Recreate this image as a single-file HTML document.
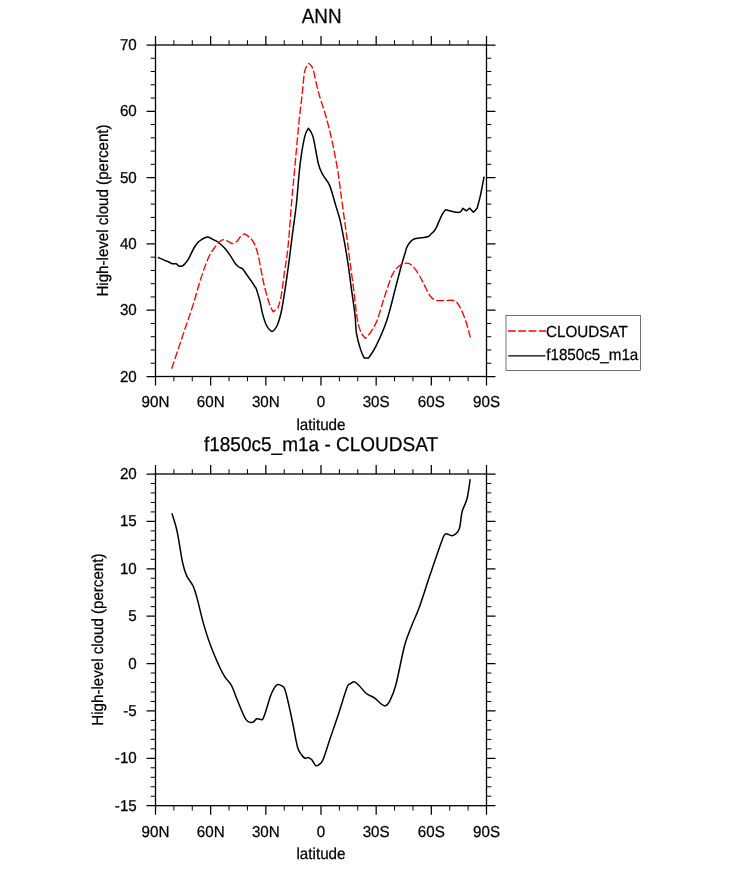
<!DOCTYPE html>
<html><head><meta charset="utf-8"><style>
html,body{margin:0;padding:0;background:#fff;}
svg{display:block;will-change:transform;}
text{text-rendering:geometricPrecision;font-family:"Liberation Sans",sans-serif;stroke:#000;stroke-width:0.25px;}

</style></head><body>
<svg width="733" height="869" viewBox="0 0 733 869">
<rect x="0" y="0" width="733" height="869" fill="#fff"/>
<rect x="155.50" y="45.00" width="331.00" height="331.50" fill="none" stroke="#000" stroke-width="1.3"/>
<path d="M155.50,376.50V385.50 M155.50,45.00V36.00 M210.67,376.50V385.50 M210.67,45.00V36.00 M265.83,376.50V385.50 M265.83,45.00V36.00 M321.00,376.50V385.50 M321.00,45.00V36.00 M376.17,376.50V385.50 M376.17,45.00V36.00 M431.33,376.50V385.50 M431.33,45.00V36.00 M486.50,376.50V385.50 M486.50,45.00V36.00 M155.50,376.50H146.50 M486.50,376.50H495.50 M155.50,310.20H146.50 M486.50,310.20H495.50 M155.50,243.90H146.50 M486.50,243.90H495.50 M155.50,177.60H146.50 M486.50,177.60H495.50 M155.50,111.30H146.50 M486.50,111.30H495.50 M155.50,45.00H146.50 M486.50,45.00H495.50" stroke="#000" stroke-width="1.25" fill="none"/>
<path d="M173.89,376.50V381.30 M173.89,45.00V40.20 M192.28,376.50V381.30 M192.28,45.00V40.20 M229.06,376.50V381.30 M229.06,45.00V40.20 M247.44,376.50V381.30 M247.44,45.00V40.20 M284.22,376.50V381.30 M284.22,45.00V40.20 M302.61,376.50V381.30 M302.61,45.00V40.20 M339.39,376.50V381.30 M339.39,45.00V40.20 M357.78,376.50V381.30 M357.78,45.00V40.20 M394.56,376.50V381.30 M394.56,45.00V40.20 M412.94,376.50V381.30 M412.94,45.00V40.20 M449.72,376.50V381.30 M449.72,45.00V40.20 M468.11,376.50V381.30 M468.11,45.00V40.20 M155.50,363.24H150.70 M486.50,363.24H491.30 M155.50,349.98H150.70 M486.50,349.98H491.30 M155.50,336.72H150.70 M486.50,336.72H491.30 M155.50,323.46H150.70 M486.50,323.46H491.30 M155.50,296.94H150.70 M486.50,296.94H491.30 M155.50,283.68H150.70 M486.50,283.68H491.30 M155.50,270.42H150.70 M486.50,270.42H491.30 M155.50,257.16H150.70 M486.50,257.16H491.30 M155.50,230.64H150.70 M486.50,230.64H491.30 M155.50,217.38H150.70 M486.50,217.38H491.30 M155.50,204.12H150.70 M486.50,204.12H491.30 M155.50,190.86H150.70 M486.50,190.86H491.30 M155.50,164.34H150.70 M486.50,164.34H491.30 M155.50,151.08H150.70 M486.50,151.08H491.30 M155.50,137.82H150.70 M486.50,137.82H491.30 M155.50,124.56H150.70 M486.50,124.56H491.30 M155.50,98.04H150.70 M486.50,98.04H491.30 M155.50,84.78H150.70 M486.50,84.78H491.30 M155.50,71.52H150.70 M486.50,71.52H491.30 M155.50,58.26H150.70 M486.50,58.26H491.30" stroke="#000" stroke-width="1.0" fill="none"/>
<rect x="155.50" y="474.00" width="331.00" height="331.70" fill="none" stroke="#000" stroke-width="1.3"/>
<path d="M155.50,805.70V814.70 M155.50,474.00V465.00 M210.67,805.70V814.70 M210.67,474.00V465.00 M265.83,805.70V814.70 M265.83,474.00V465.00 M321.00,805.70V814.70 M321.00,474.00V465.00 M376.17,805.70V814.70 M376.17,474.00V465.00 M431.33,805.70V814.70 M431.33,474.00V465.00 M486.50,805.70V814.70 M486.50,474.00V465.00 M155.50,805.70H146.50 M486.50,805.70H495.50 M155.50,758.31H146.50 M486.50,758.31H495.50 M155.50,710.93H146.50 M486.50,710.93H495.50 M155.50,663.54H146.50 M486.50,663.54H495.50 M155.50,616.16H146.50 M486.50,616.16H495.50 M155.50,568.77H146.50 M486.50,568.77H495.50 M155.50,521.39H146.50 M486.50,521.39H495.50 M155.50,474.00H146.50 M486.50,474.00H495.50" stroke="#000" stroke-width="1.25" fill="none"/>
<path d="M173.89,805.70V810.50 M173.89,474.00V469.20 M192.28,805.70V810.50 M192.28,474.00V469.20 M229.06,805.70V810.50 M229.06,474.00V469.20 M247.44,805.70V810.50 M247.44,474.00V469.20 M284.22,805.70V810.50 M284.22,474.00V469.20 M302.61,805.70V810.50 M302.61,474.00V469.20 M339.39,805.70V810.50 M339.39,474.00V469.20 M357.78,805.70V810.50 M357.78,474.00V469.20 M394.56,805.70V810.50 M394.56,474.00V469.20 M412.94,805.70V810.50 M412.94,474.00V469.20 M449.72,805.70V810.50 M449.72,474.00V469.20 M468.11,805.70V810.50 M468.11,474.00V469.20 M155.50,796.22H150.70 M486.50,796.22H491.30 M155.50,786.75H150.70 M486.50,786.75H491.30 M155.50,777.27H150.70 M486.50,777.27H491.30 M155.50,767.79H150.70 M486.50,767.79H491.30 M155.50,748.84H150.70 M486.50,748.84H491.30 M155.50,739.36H150.70 M486.50,739.36H491.30 M155.50,729.88H150.70 M486.50,729.88H491.30 M155.50,720.41H150.70 M486.50,720.41H491.30 M155.50,701.45H150.70 M486.50,701.45H491.30 M155.50,691.97H150.70 M486.50,691.97H491.30 M155.50,682.50H150.70 M486.50,682.50H491.30 M155.50,673.02H150.70 M486.50,673.02H491.30 M155.50,654.07H150.70 M486.50,654.07H491.30 M155.50,644.59H150.70 M486.50,644.59H491.30 M155.50,635.11H150.70 M486.50,635.11H491.30 M155.50,625.63H150.70 M486.50,625.63H491.30 M155.50,606.68H150.70 M486.50,606.68H491.30 M155.50,597.20H150.70 M486.50,597.20H491.30 M155.50,587.73H150.70 M486.50,587.73H491.30 M155.50,578.25H150.70 M486.50,578.25H491.30 M155.50,559.29H150.70 M486.50,559.29H491.30 M155.50,549.82H150.70 M486.50,549.82H491.30 M155.50,540.34H150.70 M486.50,540.34H491.30 M155.50,530.86H150.70 M486.50,530.86H491.30 M155.50,511.91H150.70 M486.50,511.91H491.30 M155.50,502.43H150.70 M486.50,502.43H491.30 M155.50,492.95H150.70 M486.50,492.95H491.30 M155.50,483.48H150.70 M486.50,483.48H491.30" stroke="#000" stroke-width="1.0" fill="none"/>
<path d="M157.80,257.40 C158.87,257.85 162.37,259.33 164.20,260.10 C166.03,260.87 167.42,261.38 168.80,262.00 C170.18,262.62 171.27,263.50 172.50,263.80 C173.73,264.10 175.13,263.43 176.20,263.80 C177.27,264.17 177.88,265.63 178.90,266.00 C179.92,266.37 181.22,266.45 182.30,266.00 C183.38,265.55 184.27,264.67 185.40,263.30 C186.53,261.93 187.72,260.27 189.10,257.80 C190.48,255.33 192.17,251.12 193.70,248.50 C195.23,245.88 196.92,243.63 198.30,242.10 C199.68,240.57 200.47,240.13 202.00,239.30 C203.53,238.47 205.52,237.00 207.50,237.10 C209.48,237.20 212.07,239.00 213.90,239.90 C215.73,240.80 216.65,241.07 218.50,242.50 C220.35,243.93 223.00,246.27 225.00,248.50 C227.00,250.73 228.82,253.43 230.50,255.90 C232.18,258.37 233.72,261.45 235.10,263.30 C236.48,265.15 237.57,266.08 238.80,267.00 C240.03,267.92 241.12,267.43 242.50,268.80 C243.88,270.17 245.57,273.05 247.10,275.20 C248.63,277.35 250.18,279.47 251.70,281.70 C253.22,283.93 255.45,287.45 256.20,288.60 C256.82,290.67 258.83,296.78 259.90,301.00 C260.97,305.22 261.53,309.90 262.60,313.90 C263.67,317.90 264.92,322.15 266.30,325.00 C267.68,327.85 269.67,330.08 270.90,331.00 C272.13,331.92 272.62,331.50 273.70,330.50 C274.78,329.50 276.18,327.92 277.40,325.00 C278.62,322.08 279.78,318.53 281.00,313.00 C282.22,307.47 283.35,300.50 284.70,291.80 C286.05,283.10 287.75,270.88 289.10,260.80 C290.45,250.72 291.60,240.60 292.80,231.30 C294.00,222.00 295.08,216.18 296.30,205.00 C297.52,193.82 298.70,175.60 300.10,164.20 C301.50,152.80 303.32,142.58 304.70,136.60 C306.08,130.62 307.78,129.68 308.40,128.30 C309.17,129.68 311.32,130.62 313.00,136.60 C314.68,142.58 316.82,157.77 318.50,164.20 C320.18,170.63 321.25,171.67 323.10,175.20 C324.95,178.73 327.52,180.43 329.60,185.40 C331.68,190.37 333.87,199.25 335.60,205.00 C337.33,210.75 338.52,213.67 340.00,219.90 C341.48,226.13 343.13,234.90 344.50,242.40 C345.87,249.90 347.08,257.42 348.20,264.90 C349.32,272.38 350.07,278.97 351.20,287.30 C352.33,295.63 354.13,307.32 355.00,314.90 C355.87,322.48 355.48,327.05 356.40,332.80 C357.32,338.55 359.18,345.20 360.50,349.40 C361.82,353.60 363.67,356.57 364.30,358.00 C365.00,358.00 367.80,358.00 368.50,358.00 C369.70,356.10 372.65,352.87 375.70,346.60 C378.75,340.33 383.35,330.75 386.80,320.40 C390.25,310.05 393.88,293.93 396.40,284.50 C398.92,275.07 400.35,269.37 401.90,263.80 C403.45,258.23 404.88,253.85 405.70,251.10 C406.52,248.35 406.02,248.87 406.80,247.30 C407.58,245.73 409.18,243.08 410.40,241.70 C411.62,240.32 412.35,239.67 414.10,239.00 C415.85,238.33 418.65,238.07 420.90,237.70 C423.15,237.33 425.87,237.45 427.60,236.80 C429.33,236.15 429.97,235.12 431.30,233.80 C432.63,232.48 433.87,231.98 435.60,228.90 C437.33,225.82 440.07,218.48 441.70,215.30 C443.33,212.12 444.78,210.72 445.40,209.80 C446.43,210.05 449.23,210.88 451.60,211.30 C453.97,211.72 457.72,212.80 459.60,212.30 C461.48,211.80 462.35,208.97 462.90,208.30 C463.47,208.72 465.73,210.38 466.30,210.80 C466.87,210.37 469.13,208.63 469.70,208.20 C470.32,208.88 472.78,211.62 473.40,212.30 C474.02,211.62 476.48,208.88 477.10,208.20 C477.65,206.12 479.23,200.95 480.40,195.70 C481.57,190.45 483.48,179.87 484.10,176.70" stroke="#000" stroke-width="1.5" fill="none" stroke-linejoin="round"/>
<path d="M171.60,368.80 C172.82,365.18 176.45,354.40 178.90,347.10 C181.35,339.80 183.83,332.37 186.30,325.00 C188.77,317.63 191.25,310.73 193.70,302.90 C196.15,295.07 198.55,285.52 201.00,278.00 C203.45,270.48 206.25,262.72 208.40,257.80 C210.55,252.88 212.05,251.18 213.90,248.50 C215.75,245.82 217.80,243.17 219.50,241.70 C221.20,240.23 222.73,239.78 224.10,239.70 C225.47,239.62 226.33,240.55 227.70,241.20 C229.07,241.85 230.75,243.60 232.30,243.60 C233.85,243.60 235.62,242.37 237.00,241.20 C238.38,240.03 239.38,237.83 240.60,236.60 C241.82,235.37 243.68,234.27 244.30,233.80 C245.22,234.42 248.12,235.82 249.80,237.50 C251.48,239.18 253.02,240.98 254.40,243.90 C255.78,246.82 256.73,249.32 258.10,255.00 C259.47,260.68 261.38,272.17 262.60,278.00 C263.82,283.83 264.32,285.85 265.40,290.00 C266.48,294.15 267.83,299.27 269.10,302.90 C270.37,306.53 272.35,310.32 273.00,311.80 C273.80,311.23 277.00,308.97 277.80,308.40 C278.35,306.40 280.02,302.23 281.10,296.40 C282.18,290.57 283.13,281.80 284.30,273.40 C285.47,265.00 286.85,258.23 288.10,246.00 C289.35,233.77 290.72,212.72 291.80,200.00 C292.88,187.28 293.37,183.03 294.60,169.70 C295.83,156.37 297.97,132.28 299.20,120.00 C300.43,107.72 301.08,104.13 302.00,96.00 C302.92,87.87 303.57,76.65 304.70,71.20 C305.83,65.75 308.12,64.62 308.80,63.30 C309.50,64.30 311.38,64.45 313.00,69.30 C314.62,74.15 316.35,84.57 318.50,92.40 C320.65,100.23 323.60,108.02 325.90,116.30 C328.20,124.58 330.30,132.90 332.30,142.10 C334.30,151.30 336.48,163.02 337.90,171.50 C339.32,179.98 339.70,184.93 340.80,193.00 C341.90,201.07 343.38,211.67 344.50,219.90 C345.62,228.13 346.52,234.90 347.50,242.40 C348.48,249.90 349.42,257.42 350.40,264.90 C351.38,272.38 352.53,280.45 353.40,287.30 C354.27,294.15 354.87,300.25 355.60,306.00 C356.33,311.75 356.87,317.33 357.80,321.80 C358.73,326.27 359.93,330.03 361.20,332.80 C362.47,335.57 364.70,337.47 365.40,338.40 C366.20,337.47 368.25,335.80 370.20,332.80 C372.15,329.80 374.80,326.15 377.10,320.40 C379.40,314.65 381.47,305.88 384.00,298.30 C386.53,290.72 389.77,280.30 392.30,274.90 C394.83,269.50 396.82,267.85 399.20,265.90 C401.58,263.95 404.47,263.28 406.60,263.20 C408.73,263.12 410.18,263.85 412.00,265.40 C413.82,266.95 415.87,270.05 417.50,272.50 C419.13,274.95 420.35,277.38 421.80,280.10 C423.25,282.82 424.73,286.07 426.20,288.80 C427.67,291.53 428.97,294.58 430.60,296.50 C432.23,298.42 433.60,299.62 436.00,300.30 C438.40,300.98 441.90,300.55 445.00,300.60 C448.10,300.65 452.18,299.65 454.60,300.60 C457.02,301.55 458.05,303.98 459.50,306.30 C460.95,308.62 462.12,311.58 463.30,314.50 C464.48,317.42 465.42,319.98 466.60,323.80 C467.78,327.62 469.77,335.13 470.40,337.40" stroke="#f00" stroke-width="1.35" fill="none" stroke-dasharray="7.8 2.5" stroke-linejoin="round"/>
<path d="M171.90,513.20 C172.78,516.30 175.43,523.63 177.20,531.80 C178.97,539.97 180.95,554.93 182.50,562.20 C184.05,569.47 184.73,571.43 186.50,575.40 C188.27,579.37 191.35,582.25 193.10,586.00 C194.85,589.75 195.23,591.50 197.00,597.90 C198.77,604.30 201.27,616.02 203.70,624.40 C206.13,632.78 208.30,639.82 211.60,648.20 C214.90,656.58 220.20,668.52 223.50,674.70 C226.80,680.88 229.20,681.33 231.40,685.30 C233.60,689.27 234.27,692.77 236.70,698.50 C239.13,704.23 243.35,715.73 246.00,719.70 C248.65,723.67 250.83,722.45 252.60,722.30 C254.37,722.15 255.37,719.30 256.60,718.80 C257.83,718.30 258.93,719.30 260.00,719.30 C261.07,719.30 261.87,720.68 263.00,718.80 C264.13,716.92 265.55,711.80 266.80,708.00 C268.05,704.20 269.25,699.37 270.50,696.00 C271.75,692.63 273.10,689.72 274.30,687.80 C275.50,685.88 276.45,684.83 277.70,684.50 C278.95,684.17 280.62,685.00 281.80,685.80 C282.98,686.60 283.68,686.35 284.80,689.30 C285.92,692.25 287.13,697.63 288.50,703.50 C289.87,709.37 291.50,717.25 293.00,724.50 C294.50,731.75 296.12,742.00 297.50,747.00 C298.88,752.00 300.05,752.62 301.30,754.50 C302.55,756.38 303.88,757.80 305.00,758.30 C306.12,758.80 306.87,757.25 308.00,757.50 C309.13,757.75 310.55,758.47 311.80,759.80 C313.05,761.13 314.38,764.63 315.50,765.50 C316.62,766.37 317.25,765.95 318.50,765.00 C319.75,764.05 321.12,764.05 323.00,759.80 C324.88,755.55 327.30,746.88 329.80,739.50 C332.30,732.12 335.13,724.17 338.00,715.50 C340.87,706.83 345.00,692.75 347.00,687.50 C349.00,682.25 348.80,684.95 350.00,684.00 C351.20,683.05 352.70,681.55 354.20,681.80 C355.70,682.05 357.20,683.75 359.00,685.50 C360.80,687.25 363.40,690.73 365.00,692.30 C366.60,693.87 367.03,693.98 368.60,694.90 C370.17,695.82 372.48,696.45 374.40,697.80 C376.32,699.15 378.28,701.65 380.10,703.00 C381.92,704.35 383.62,706.38 385.30,705.90 C386.98,705.42 388.42,703.70 390.20,700.10 C391.98,696.50 393.60,693.40 396.00,684.30 C398.40,675.20 401.97,655.32 404.60,645.50 C407.23,635.68 409.40,631.63 411.80,625.40 C414.20,619.17 415.88,616.73 419.00,608.10 C422.12,599.47 426.67,584.87 430.50,573.60 C434.33,562.33 439.47,547.12 442.00,540.50 C444.53,533.88 443.93,534.72 445.70,533.90 C447.47,533.08 450.35,536.42 452.60,535.60 C454.85,534.78 457.62,532.98 459.20,529.00 C460.78,525.02 460.80,516.73 462.10,511.70 C463.40,506.67 465.65,504.22 467.00,498.80 C468.35,493.38 469.67,482.47 470.20,479.20" stroke="#000" stroke-width="1.5" fill="none" stroke-linejoin="round"/>
<text transform="translate(321.70,22.90) scale(0.920,1)" font-family="Liberation Sans" font-size="20.50" text-anchor="middle" >ANN</text>
<text transform="translate(321.00,450.50) scale(0.950,1)" font-family="Liberation Sans" font-size="20.00" text-anchor="middle" >f1850c5_m1a - CLOUDSAT</text>
<text transform="translate(155.50,407.40) scale(0.961,1)" font-family="Liberation Sans" font-size="15.80" text-anchor="middle" >90N</text>
<text transform="translate(210.67,407.40) scale(0.961,1)" font-family="Liberation Sans" font-size="15.80" text-anchor="middle" >60N</text>
<text transform="translate(265.83,407.40) scale(0.961,1)" font-family="Liberation Sans" font-size="15.80" text-anchor="middle" >30N</text>
<text transform="translate(321.00,407.40) scale(0.961,1)" font-family="Liberation Sans" font-size="15.80" text-anchor="middle" >0</text>
<text transform="translate(376.17,407.40) scale(0.961,1)" font-family="Liberation Sans" font-size="15.80" text-anchor="middle" >30S</text>
<text transform="translate(431.33,407.40) scale(0.961,1)" font-family="Liberation Sans" font-size="15.80" text-anchor="middle" >60S</text>
<text transform="translate(486.50,407.40) scale(0.961,1)" font-family="Liberation Sans" font-size="15.80" text-anchor="middle" >90S</text>
<text transform="translate(321.00,429.90) scale(0.950,1)" font-family="Liberation Sans" font-size="16.00" text-anchor="middle" >latitude</text>
<text transform="translate(155.50,836.60) scale(0.961,1)" font-family="Liberation Sans" font-size="15.80" text-anchor="middle" >90N</text>
<text transform="translate(210.67,836.60) scale(0.961,1)" font-family="Liberation Sans" font-size="15.80" text-anchor="middle" >60N</text>
<text transform="translate(265.83,836.60) scale(0.961,1)" font-family="Liberation Sans" font-size="15.80" text-anchor="middle" >30N</text>
<text transform="translate(321.00,836.60) scale(0.961,1)" font-family="Liberation Sans" font-size="15.80" text-anchor="middle" >0</text>
<text transform="translate(376.17,836.60) scale(0.961,1)" font-family="Liberation Sans" font-size="15.80" text-anchor="middle" >30S</text>
<text transform="translate(431.33,836.60) scale(0.961,1)" font-family="Liberation Sans" font-size="15.80" text-anchor="middle" >60S</text>
<text transform="translate(486.50,836.60) scale(0.961,1)" font-family="Liberation Sans" font-size="15.80" text-anchor="middle" >90S</text>
<text transform="translate(321.00,859.10) scale(0.950,1)" font-family="Liberation Sans" font-size="16.00" text-anchor="middle" >latitude</text>
<text transform="translate(136.80,381.60) scale(0.961,1)" font-family="Liberation Sans" font-size="15.80" text-anchor="end" >20</text>
<text transform="translate(136.80,315.30) scale(0.961,1)" font-family="Liberation Sans" font-size="15.80" text-anchor="end" >30</text>
<text transform="translate(136.80,249.00) scale(0.961,1)" font-family="Liberation Sans" font-size="15.80" text-anchor="end" >40</text>
<text transform="translate(136.80,182.70) scale(0.961,1)" font-family="Liberation Sans" font-size="15.80" text-anchor="end" >50</text>
<text transform="translate(136.80,116.40) scale(0.961,1)" font-family="Liberation Sans" font-size="15.80" text-anchor="end" >60</text>
<text transform="translate(136.80,50.10) scale(0.961,1)" font-family="Liberation Sans" font-size="15.80" text-anchor="end" >70</text>
<text transform="translate(136.80,810.80) scale(0.961,1)" font-family="Liberation Sans" font-size="15.80" text-anchor="end" >-15</text>
<text transform="translate(136.80,763.41) scale(0.961,1)" font-family="Liberation Sans" font-size="15.80" text-anchor="end" >-10</text>
<text transform="translate(136.80,716.03) scale(0.961,1)" font-family="Liberation Sans" font-size="15.80" text-anchor="end" >-5</text>
<text transform="translate(136.80,668.64) scale(0.961,1)" font-family="Liberation Sans" font-size="15.80" text-anchor="end" >0</text>
<text transform="translate(136.80,621.26) scale(0.961,1)" font-family="Liberation Sans" font-size="15.80" text-anchor="end" >5</text>
<text transform="translate(136.80,573.87) scale(0.961,1)" font-family="Liberation Sans" font-size="15.80" text-anchor="end" >10</text>
<text transform="translate(136.80,526.49) scale(0.961,1)" font-family="Liberation Sans" font-size="15.80" text-anchor="end" >15</text>
<text transform="translate(136.80,479.10) scale(0.961,1)" font-family="Liberation Sans" font-size="15.80" text-anchor="end" >20</text>
<text transform="translate(107.7,210.5) rotate(-90) scale(0.944,1)" x="0" y="0" font-family="Liberation Sans" font-size="16" text-anchor="middle">High-level cloud (percent)</text>
<text transform="translate(103.0,639.6) rotate(-90) scale(0.944,1)" x="0" y="0" font-family="Liberation Sans" font-size="16" text-anchor="middle">High-level cloud (percent)</text>
<rect x="506" y="315.5" width="134.4" height="55.2" fill="none" stroke="#000" stroke-width="0.55"/>
<path d="M508,331H546" stroke="#f00" stroke-width="1.6" stroke-dasharray="7.8 2.5"/>
<path d="M508.2,355.9H545.4" stroke="#000" stroke-width="1.3"/>
<text transform="translate(546.10,336.80) scale(0.950,1)" font-family="Liberation Sans" font-size="16.00" text-anchor="start" >CLOUDSAT</text>
<text transform="translate(546.20,359.80) scale(0.950,1)" font-family="Liberation Sans" font-size="16.00" text-anchor="start" >f1850c5_m1a</text>
</svg>
</body></html>
